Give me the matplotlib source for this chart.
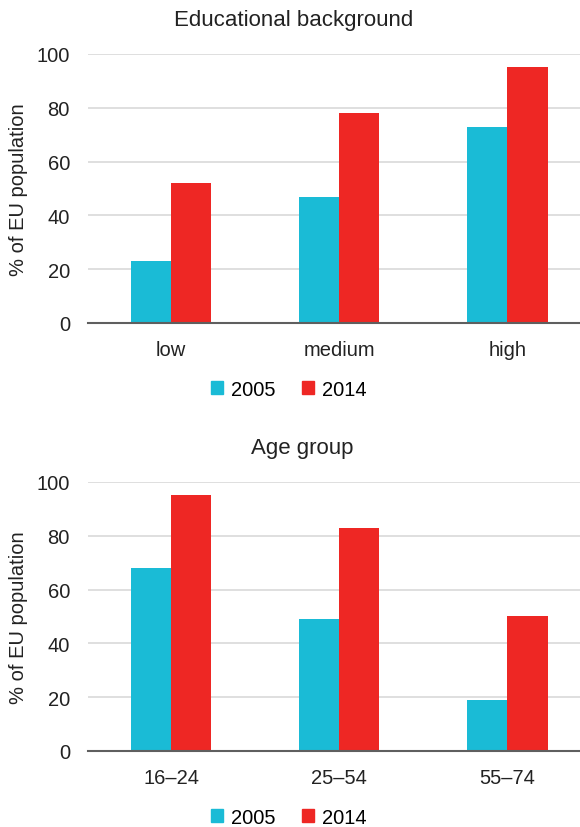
import matplotlib
matplotlib.use("Agg")
import matplotlib.pyplot as plt
from matplotlib.patches import Patch
import numpy

plt.rcParams['font.family'] = ['Liberation Sans', 'DejaVu Sans']

years = ["2005", "2014"]
colors = ["#1abbd6", "#ee2724"]

edu_labels = ["low", "medium", "high"]
edu_2005 = [23, 47, 73]
edu_2014 = [52, 78, 95]

age_labels = ["16\u201324", "25\u201354", "55\u201374"]
age_2005 = [68, 49, 19]
age_2014 = [95, 83, 50]

def draw_panel( ax, title, title_x, labels, values_a, values_b ):
    x = numpy.arange( len( labels ) )
    width = 0.238
    ax.bar( x - width / 2, values_a, width, color=colors[0], zorder=3 )
    ax.bar( x + width / 2, values_b, width, color=colors[1], zorder=3 )
    ax.set_xlim( -0.494, 2.43 )
    ax.set_ylim( 0, 100 )
    ax.set_yticks( [0, 20, 40, 60, 80, 100] )
    ax.set_xticks( x )
    ax.set_xticklabels( labels )
    ax.yaxis.grid( True, color="#d9d9d9", linewidth=1.2, zorder=0 )
    for side in ["top", "right", "left"]:
        ax.spines[side].set_visible( False )
    ax.spines["bottom"].set_color( "#5f5f5f" )
    ax.spines["bottom"].set_linewidth( 1.5 )
    ax.spines["bottom"].set_zorder( 4 )
    ax.tick_params( axis="both", length=0, labelsize=14.5, colors="#222222" )
    ax.tick_params( axis="x", pad=12 )
    ax.tick_params( axis="y", pad=13 )
    ax.set_title( title, fontsize=16, color="#222222", pad=21, x=title_x )
    ax.set_ylabel( "% of EU population", fontsize=14.5, color="#222222", labelpad=6 )
    handles = [ Patch( color=colors[i], label=years[i] ) for i in range( 2 ) ]
    ax.legend( handles=handles, loc="center", bbox_to_anchor=( 0.409, -0.246 ), ncol=2,
               frameon=False, fontsize=14.5, handlelength=0.6, handleheight=0.65,
               handletextpad=0.4, columnspacing=1.3 )

fig = plt.figure( figsize=[5.8, 8.28], dpi=100 )
ax_top = fig.add_axes( [0.1517, 0.6087, 0.848, 0.3249] )
ax_bottom = fig.add_axes( [0.1517, 0.0918, 0.848, 0.3249] )

draw_panel( ax_top, "Educational background", 0.419, edu_labels, edu_2005, edu_2014 )
draw_panel( ax_bottom, "Age group", 0.435, age_labels, age_2005, age_2014 )

fig.savefig( "out.png", dpi=100 )
